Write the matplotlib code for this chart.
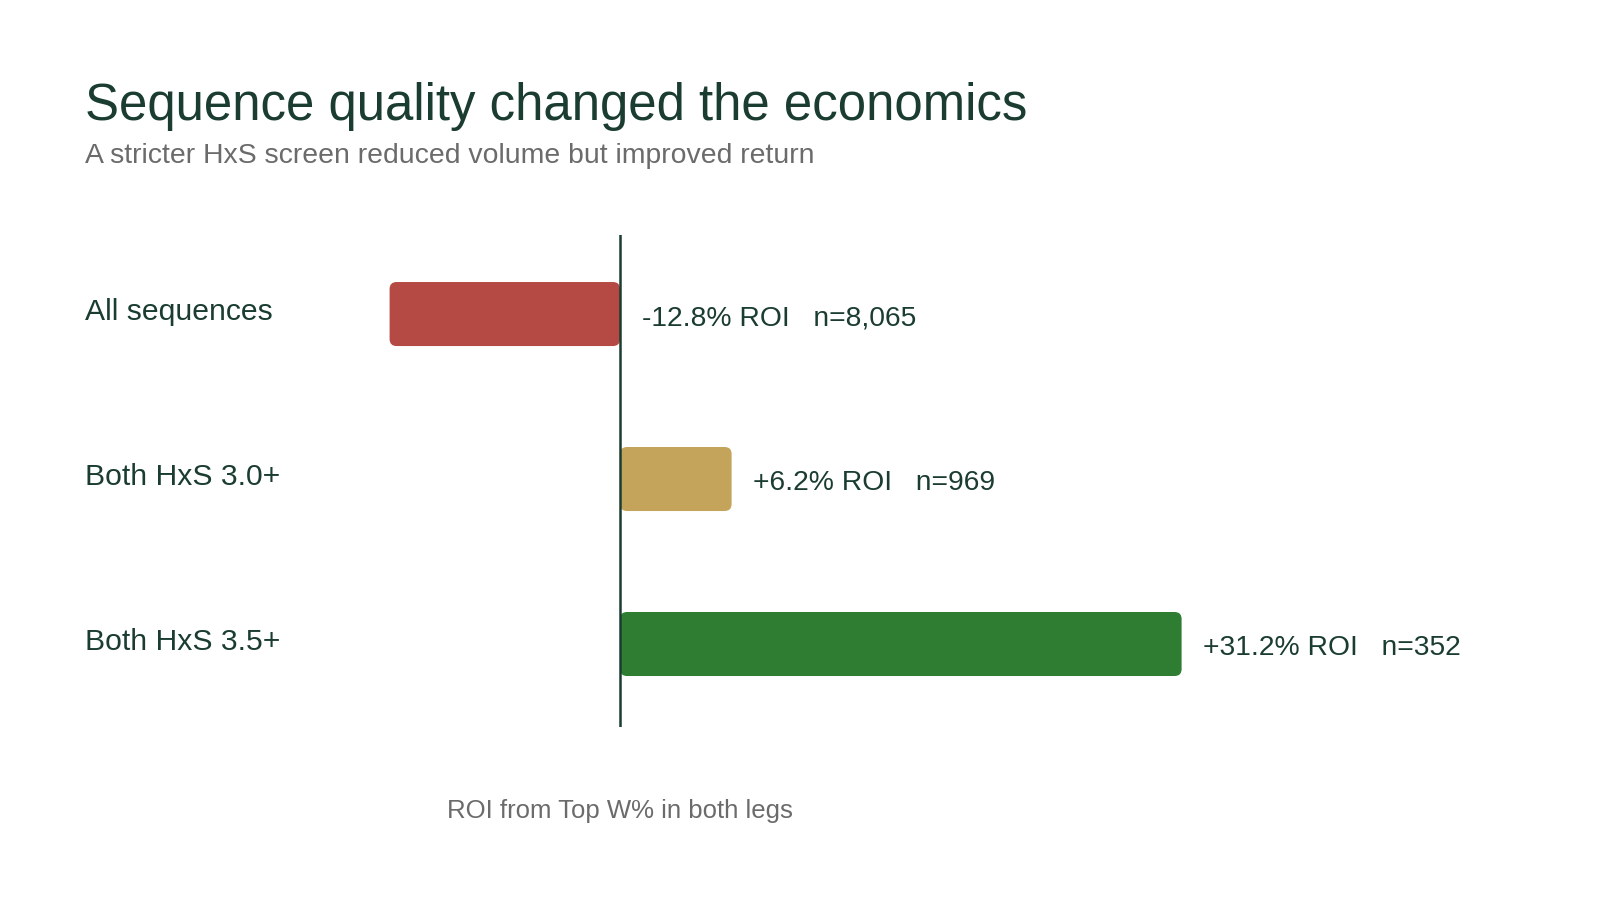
import numpy as np
import matplotlib
matplotlib.use("Agg")
from matplotlib import pyplot as plt
from matplotlib.patches import FancyBboxPatch

plt.rcParams['font.family'] = ['Liberation Sans', 'DejaVu Sans']

categories = ["All sequences", "Both HxS 3.0+", "Both HxS 3.5+"]
roi = [-12.8, 6.2, 31.2]
counts = ["8,065", "969", "352"]
bar_colors = ["#b54a44", "#c4a35a", "#2e7d32"]

dark = "#1b3d31"
grey = "#6b6b6b"

W, H = 1600, 900
fig = plt.figure(figsize=(16, 9), dpi=100)
fig.patch.set_facecolor("white")

# zero at x=620px, 18 px per %; axis line from y=235 to 727px
x_lo, x_hi = -(620 - 85) / 18, (1540 - 620) / 18
y_top, y_bot = -0.479, 2.503
ax = fig.add_axes([85 / W, 1 - 727 / H, (1540 - 85) / W, (727 - 235) / H])
ax.set_xlim(x_lo, x_hi)
ax.set_ylim(y_bot, y_top)
ax.axis("off")

bar_h = 0.388
px_x = (x_hi - x_lo) / (1540 - 85)
px_y = (y_bot - y_top) / (727 - 235)
r_px = 7

for i, (v, c) in enumerate(zip(roi, bar_colors)):
    x0 = min(0, v)
    box = FancyBboxPatch((x0, i - bar_h / 2), abs(v), bar_h,
                         boxstyle="round,pad=0,rounding_size=%f" % (r_px * px_x),
                         mutation_aspect=px_y / px_x,
                         facecolor=c, edgecolor="none", zorder=2)
    ax.add_patch(box)
    end = max(0, v)
    lab = "%+.1f%% ROI   n=%s" % (v, counts[i])
    ax.annotate(lab, xy=(end, i), xytext=(15.5, -3), textcoords="offset points",
                ha="left", va="center", fontsize=20.3, color=dark)
    ax.annotate(categories[i], xy=(0, i), xycoords=ax.get_yaxis_transform(),
                xytext=(0, 1.5), textcoords="offset points",
                ha="left", va="center", fontsize=21.7, color=dark)

ax.axvline(0, ymin=0, ymax=1, color=dark, lw=1.8, zorder=3)

fig.text(85 / W, 1 - 120 / H, "Sequence quality changed the economics",
         fontsize=36.7, color=dark, ha="left", va="baseline")
fig.text(85 / W, 1 - 163 / H, "A stricter HxS screen reduced volume but improved return",
         fontsize=20.4, color=grey, ha="left", va="baseline")
fig.text(620 / W, 1 - 818 / H, "ROI from Top W% in both legs",
         fontsize=18.5, color=grey, ha="center", va="baseline")

plt.savefig("out.png", dpi=100, facecolor="white")
